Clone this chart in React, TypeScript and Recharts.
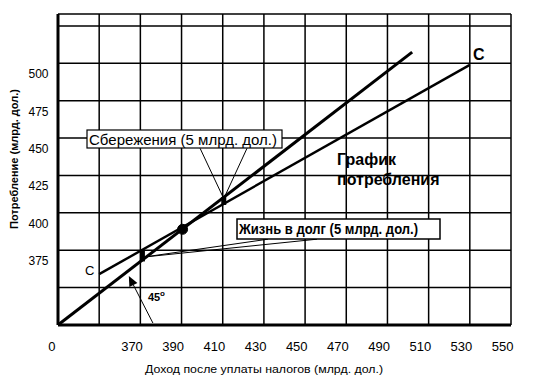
import React from 'react';
import { LineChart, Line, XAxis, YAxis, CartesianGrid, ReferenceLine, ReferenceDot } from 'recharts';

// income axis: the first gridline stands for the broken "0"
const incomeTicks = [330, 350, 370, 390, 410, 430, 450, 470, 490, 510, 530, 550];
const incomeTickLabels = ['0', '', '370', '390', '410', '430', '450', '470', '490', '510', '530', '550'];

const consumptionTicks = [325, 350, 375, 400, 425, 450, 475, 500, 525];
const consumptionTickLabels = ['', '', '375', '400', '425', '450', '475', '500', ''];

// 45-degree line and consumption schedule C
const line45 = [
  { income: 330, consumption: 325 },
  { income: 502, consumption: 507.5 },
];
const consumptionLine = [
  { income: 350, consumption: 359 },
  { income: 530, consumption: 499 },
];

// gaps between the two lines (5 bn each way)
const dissavingGap = [
  { income: 371, consumption: 367.5 },
  { income: 371, consumption: 374.5 },
];
const savingGap = [
  { income: 410.5, consumption: 405.3 },
  { income: 410.5, consumption: 410.6 },
];

const breakEven = { income: 390.5, consumption: 389 };

const savingLeaders = [
  [{ x: 399, y: 443.2 }, { x: 410.5, y: 409.5 }],
  [{ x: 421.8, y: 443.2 }, { x: 410.5, y: 409.5 }],
];
const debtLeaders = [
  [{ x: 432, y: 382.4 }, { x: 372, y: 370.5 }],
  [{ x: 455.8, y: 382.4 }, { x: 372, y: 370.5 }],
];
const angleArrow = [{ x: 376.1, y: 326.3 }, { x: 364.4, y: 357.7 }];

const FONT = '"Liberation Sans", Arial, sans-serif';

const XTick = (props: any) => {
  const { x, y, payload } = props;
  const i = incomeTicks.indexOf(payload.value);
  // the "0" sits a little left of the axis corner
  const shift = i === 0 ? -2.5 : 2.5;
  return (
    <text x={x + shift} y={y + 26} textAnchor="end" fontSize={13} fontFamily={FONT} fill="#000">
      {incomeTickLabels[i]}
    </text>
  );
};

const YTick = (props: any) => {
  const { x, y, payload } = props;
  const i = consumptionTicks.indexOf(payload.value);
  return (
    <text x={x - 9.5} y={y + 15} textAnchor="end" fontSize={12} fontFamily={FONT} fill="#000">
      {consumptionTickLabels[i]}
    </text>
  );
};

const ArrowShape = (props: any) => {
  const { x1, y1, x2, y2 } = props;
  const a = Math.atan2(y2 - y1, x2 - x1);
  const len = 10;
  const w = 4.5;
  const bx = x2 - len * Math.cos(a);
  const by = y2 - len * Math.sin(a);
  const px = -Math.sin(a) * w;
  const py = Math.cos(a) * w;
  return (
    <g>
      <line x1={x1} y1={y1} x2={bx} y2={by} stroke="#000" strokeWidth={1} />
      <polygon points={`${x2},${y2} ${bx + px},${by + py} ${bx - px},${by - py}`} fill="#000" />
    </g>
  );
};

export default function App() {
  return (
    <div style={{ position: 'absolute', left: 0, top: 0, width: 542, height: 392, background: '#fff' }}>
      <LineChart width={542} height={392} margin={{ top: 14, right: 31, bottom: 0, left: 0 }}>
        <CartesianGrid stroke="#000" strokeWidth={1.5} />
        <XAxis
          type="number"
          dataKey="income"
          domain={[330, 550]}
          allowDataOverflow
          ticks={incomeTicks}
          interval={0}
          height={67}
          tickSize={0}
          tickMargin={0}
          tickLine={false}
          axisLine={{ stroke: '#000', strokeWidth: 3 }}
          tick={<XTick />}
        />
        <YAxis
          type="number"
          dataKey="consumption"
          domain={[325, 533]}
          allowDataOverflow
          ticks={consumptionTicks}
          interval={0}
          width={58}
          tickSize={0}
          tickMargin={0}
          tickLine={false}
          axisLine={{ stroke: '#000', strokeWidth: 3 }}
          tick={<YTick />}
        />
        <Line data={line45} dataKey="consumption" stroke="#000" strokeWidth={3} dot={false} isAnimationActive={false} />
        <Line data={consumptionLine} dataKey="consumption" stroke="#000" strokeWidth={2.4} dot={false} isAnimationActive={false} />
        <Line data={dissavingGap} dataKey="consumption" stroke="#000" strokeWidth={5} dot={false} isAnimationActive={false} />
        <Line data={savingGap} dataKey="consumption" stroke="#000" strokeWidth={5} dot={false} isAnimationActive={false} />
        {savingLeaders.map((s, i) => (
          <ReferenceLine key={'s' + i} segment={s} stroke="#000" strokeWidth={1} />
        ))}
        {debtLeaders.map((s, i) => (
          <ReferenceLine key={'d' + i} segment={s} stroke="#000" strokeWidth={1} />
        ))}
        <ReferenceLine segment={angleArrow} shape={<ArrowShape />} />
        <ReferenceDot x={breakEven.income} y={breakEven.consumption} r={5} fill="#000" stroke="#000" />
      </LineChart>
      <svg
        width={542}
        height={392}
        style={{ position: 'absolute', left: 0, top: 0, pointerEvents: 'none' }}
        fontFamily={FONT}
      >
        <rect x={87} y={130} width={195} height={18} fill="#fff" stroke="#000" strokeWidth={1.2} />
        <text x={89} y={145} fontSize={15} textLength={188} lengthAdjust="spacingAndGlyphs" fill="#000">
          Сбережения (5 млрд. дол.)
        </text>
        <rect x={237} y={219} width={203} height={20} fill="#fff" stroke="#000" strokeWidth={1.5} />
        <text x={239} y={234} fontSize={15} fontWeight="bold" textLength={179} lengthAdjust="spacingAndGlyphs" fill="#000">
          Жизнь в долг (5 млрд. дол.)
        </text>
        <text x={337} y={165} fontSize={16} fontWeight="bold" fill="#000">График</text>
        <text x={337} y={185} fontSize={16} fontWeight="bold" fill="#000">потребления</text>
        <text x={85} y={275} fontSize={13} fill="#000">С</text>
        <text x={473} y={60} fontSize={16} fontWeight="bold" fill="#000">С</text>
        <text x={148} y={301} fontSize={11} fontWeight="bold" fill="#000">45</text>
        <text x={160} y={296} fontSize={8} fontWeight="bold" fill="#000">o</text>
        <text
          x={17.5}
          y={159}
          transform="rotate(-90 17.5 159)"
          textAnchor="middle"
          fontSize={11}
          fontWeight="bold"
          textLength={140}
          lengthAdjust="spacingAndGlyphs"
          fill="#000"
        >
          Потребление (млрд. дол.)
        </text>
        <text x={145} y={373} fontSize={11} textLength={238} lengthAdjust="spacingAndGlyphs" fill="#000">
          Доход после уплаты налогов (млрд. дол.)
        </text>
      </svg>
    </div>
  );
}
